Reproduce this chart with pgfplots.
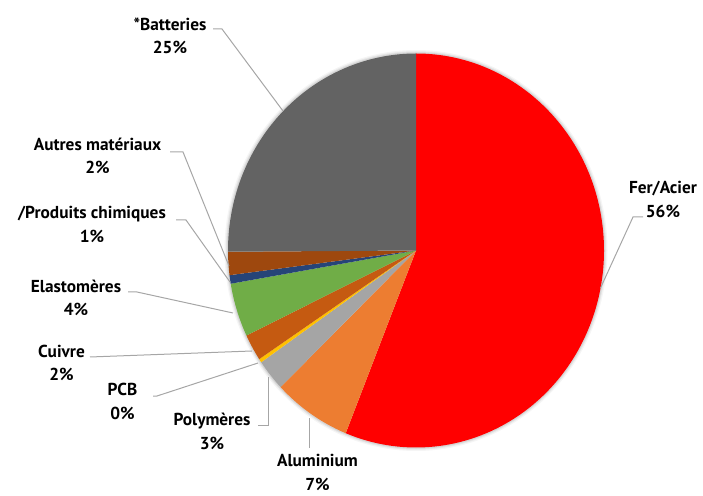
\documentclass[border=0pt]{standalone}
\usepackage{pgfplots}
\pgfplotsset{compat=1.18}
\usepackage{fontspec}
\setmainfont{PT Sans}
\definecolor{cFer}{HTML}{FF0000}
\definecolor{cAlu}{HTML}{ED7D31}
\definecolor{cPoly}{HTML}{A5A5A5}
\definecolor{cPCB}{HTML}{FFC000}
\definecolor{cCuiv}{HTML}{C55A11}
\definecolor{cElas}{HTML}{70AD47}
\definecolor{cProd}{HTML}{264478}
\definecolor{cAutr}{HTML}{9E480E}
\definecolor{cBatt}{HTML}{636363}
\definecolor{lead}{HTML}{A6A6A6}
\begin{document}
\begin{tikzpicture}[lbl/.style={font=\bfseries\fontsize{17.3}{23.5}\selectfont,align=center,text=black,inner sep=0pt}]
\begin{axis}[width=703pt,height=495pt,scale only axis,
  xmin=0,xmax=703,ymin=0,ymax=495,hide axis,clip=false]
\path (axis cs:0,0) rectangle (axis cs:703,495);
% soft shadow
\foreach \w/\o in {7/0.04,4.5/0.06,2.5/0.08}{
  \edef\temp{\noexpand\draw[black,opacity=\o,line width=\w pt] (axis cs:416,244.5) ellipse[x radius=188pt,y radius=197pt];}
  \temp
}
% slices: value (%) / colour, clockwise from 12 o'clock
\foreach \v/\c [remember=\e as \s (initially 90)] in
  {56.1/cFer, 6.7/cAlu, 2.6/cPoly, 0.3/cPCB, 2.2/cCuiv, 4.4/cElas, 0.7/cProd, 1.9/cAutr, 25.1/cBatt}{
  \pgfmathsetmacro\e{\s-3.6*\v}
  \edef\temp{\noexpand\fill[\c] (axis cs:416,244.5) -- ++(\s:188pt and 197pt) arc[start angle=\s,end angle=\e,x radius=188pt,y radius=197pt] -- cycle;}
  \temp
}
% leader lines
\draw[lead,line width=1pt] (axis cs:213,466) -- (axis cs:222,466) -- (axis cs:283,384);
\draw[lead,line width=1pt] (axis cs:170,343) -- (axis cs:183,343) -- (axis cs:229,229);
\draw[lead,line width=1pt] (axis cs:176,275) -- (axis cs:186,275) -- (axis cs:230,213);
\draw[lead,line width=1pt] (axis cs:128,203) -- (axis cs:137,203) -- (axis cs:233,182);
\draw[lead,line width=1pt] (axis cs:90,138) -- (axis cs:252,144);
\draw[lead,line width=1pt] (axis cs:153,99) -- (axis cs:157,99) -- (axis cs:258,132);
\draw[lead,line width=1pt] (axis cs:258,70) -- (axis cs:268,70) -- (axis cs:268,118);
\draw[lead,line width=1pt] (axis cs:309,47) -- (axis cs:309,77);
\draw[lead,line width=1pt] (axis cs:643,278) -- (axis cs:633,278) -- (axis cs:600.5,207);
% labels
\node[lbl] at (axis cs:170,459) {*Batteries\\25\%};
\node[lbl] at (axis cs:97.5,339) {Autres matériaux\\2\%};
\node[lbl] at (axis cs:92,270.5) {/Produits chimiques\\1\%};
\node[lbl] at (axis cs:76,197) {Elastomères\\4\%};
\node[lbl] at (axis cs:61.5,132) {Cuivre\\2\%};
\node[lbl] at (axis cs:122.5,93.5) {PCB\\0\%};
\node[lbl] at (axis cs:212,63.5) {Polymères\\3\%};
\node[lbl] at (axis cs:317.5,22.5) {Aluminium\\7\%};
\node[lbl] at (axis cs:663,295.5) {Fer/Acier\\56\%};
\end{axis}
\end{tikzpicture}
\end{document}
